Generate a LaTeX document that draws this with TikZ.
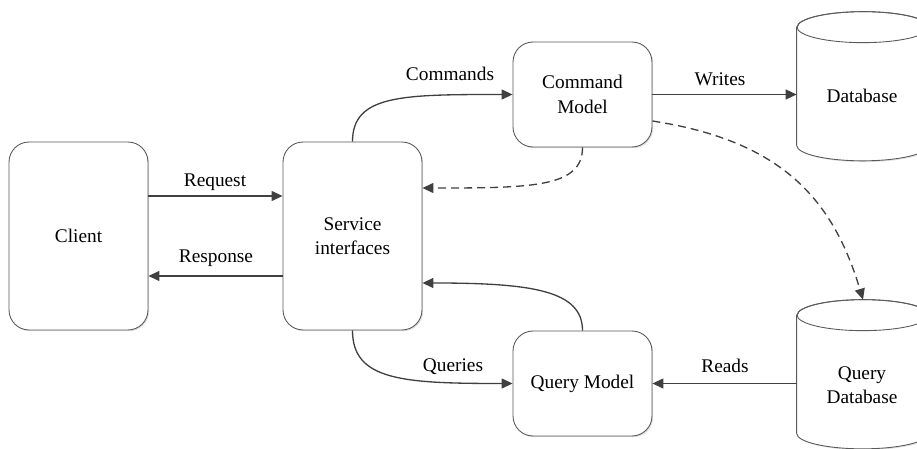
\documentclass[tikz,border=0pt]{standalone}
\usepackage{fontspec}
\setmainfont{Liberation Serif}
\usepackage{tikz}
\usetikzlibrary{arrows.meta,shadows}
\definecolor{linegray}{HTML}{404040}
\definecolor{boxgray}{HTML}{595959}

\begin{document}
\begin{tikzpicture}[x=0.02cm, y=-0.02cm, >={Triangle[length=2.2mm,width=2mm]},
    every node/.style={font=\fontsize{11}{14}\selectfont},
    box/.style={draw=boxgray, line width=0.5pt, rounded corners=0.4cm, fill=white,
      align=center, minimum width=2.78cm,
      drop shadow={shadow xshift=0.7pt, shadow yshift=-0.7pt, fill=black, opacity=0.12}},
    tallbox/.style={box, minimum height=3.76cm},
    modelbox/.style={box, minimum height=2.1cm},
    cylbody/.style={minimum width=2.64cm, minimum height=2.35cm, inner sep=0pt},
    cyl/.style={draw=boxgray, line width=0.5pt},
    conn/.style={draw=linegray, line width=0.75pt},
    ret/.style={conn, dash pattern=on 1.6mm off 1mm}]
  \useasboundingbox (0,0) rectangle (917,449);

  % boxes
  \node[tallbox] (client) at (78.5,236) {Client};
  \node[tallbox] (svc) at (352.5,236) {Service\\interfaces};
  \node[modelbox] (cmdm) at (582.5,94.5) {Command\\Model};
  \node[modelbox] (qrym) at (582.5,383.5) {Query Model};

  % the two stores
  \node[cylbody] (db) at (863,86.25) {};
  \node[cylbody] (qdb) at (863,374.25) {};
  \draw[cyl, fill=white, drop shadow={shadow xshift=0.7pt, shadow yshift=-0.7pt, fill=black, opacity=0.12}]
    (db.north west) -- (db.south west)
    arc [start angle=180, end angle=360, x radius=1.32cm, y radius=0.31cm]
    -- (db.north east)
    arc [start angle=0, end angle=180, x radius=1.32cm, y radius=0.31cm] -- cycle;
  \draw[cyl] (db.north) ellipse [x radius=1.32cm, y radius=0.31cm];
  \draw[cyl, fill=white, drop shadow={shadow xshift=0.7pt, shadow yshift=-0.7pt, fill=black, opacity=0.12}]
    (qdb.north west) -- (qdb.south west)
    arc [start angle=180, end angle=360, x radius=1.32cm, y radius=0.31cm]
    -- (qdb.north east)
    arc [start angle=0, end angle=180, x radius=1.32cm, y radius=0.31cm] -- cycle;
  \draw[cyl] (qdb.north) ellipse [x radius=1.32cm, y radius=0.31cm];
  \node (dbtext) at (862,96) {Database};
  \node[align=center] (qdbtext) at (862,385) {Query\\Database};

  % request / response
  \draw[conn,->] ([yshift=0.8cm]client.east) -- ([yshift=0.8cm]svc.west);
  \draw[conn,->] ([yshift=-0.8cm]svc.west) -- ([yshift=-0.8cm]client.east);
  % command side
  \draw[conn,->] (svc.north) .. controls +(0,-47) and +(-110,0) .. (cmdm.west);
  \draw[ret,->] (cmdm.south) .. controls +(0,40) and +(110,0) .. ([yshift=0.96cm]svc.east);
  \draw[conn,->] (cmdm.east) -- (cmdm.east -| db.west);
  % query side
  \draw[conn,->] (svc.south) .. controls +(0,50) and +(-110,0) .. (qrym.west);
  \draw[conn,->] (qrym.north) .. controls +(0,-40) and +(110,0) .. ([yshift=-0.94cm]svc.east);
  \draw[conn,->] (qrym.east -| qdb.west) -- (qrym.east);
  % sync of the read store
  \draw[ret,->] ([yshift=-0.53cm]cmdm.east) .. controls +(130,20) and +(-30,-100) .. ([yshift=0.31cm]qdb.north);

  % edge labels
  \node (reqlbl) at (215,182) {Request};
  \node (reslbl) at (216,258) {Response};
  \node (cmdlbl) at (450,74) {Commands};
  \node (wrlbl) at (720,79) {Writes};
  \node (qrylbl) at (453,367) {Queries};
  \node (rdlbl) at (725,366) {Reads};
\end{tikzpicture}
\end{document}
